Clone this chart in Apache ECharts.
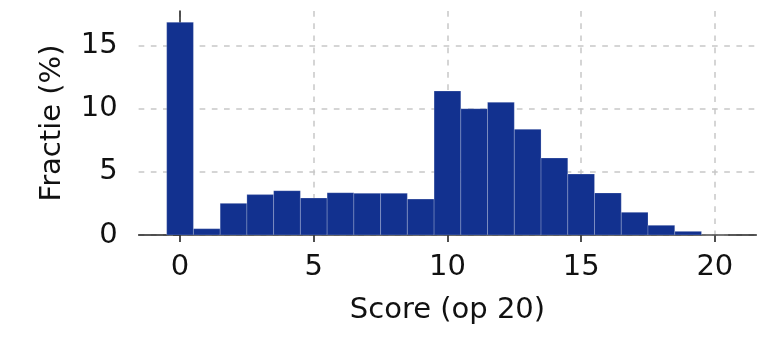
<!DOCTYPE html>
<html>
<head>
<meta charset="utf-8">
<script src="https://cdn.jsdelivr.net/npm/echarts@6/dist/echarts.min.js"></script>
<style>
  html, body { margin: 0; padding: 0; background: #fff; }
  #chart { width: 778px; height: 346px; }
</style>
</head>
<body>
<div id="chart"></div>
<script>
// Histogram bins (score out of 20) and fraction of students (%)
const scores = [0, 1, 2, 3, 4, 5, 6, 7, 8, 9, 10, 11, 12, 13, 14, 15, 16, 17, 18, 19, 20];
const fraction = [16.85, 0.50, 2.51, 3.20, 3.51, 2.93, 3.35, 3.30, 3.30, 2.85, 11.41, 10.01, 10.51, 8.37, 6.10, 4.83, 3.33, 1.80, 0.77, 0.29, 0.0];
const xTicks = [0, 5, 10, 15, 20];
const yTicks = [0, 5, 10, 15];
const xTitle = 'Score (op 20)';
const yTitle = 'Fractie (%)';

const FONT = 'DejaVu Sans';
const TXT = '#111111';
const BAR = '#12318f';
const GRIDLINE = { color: '#c8c8c8', width: 1.5, type: [5.7, 6.5] };

const chart = echarts.init(document.getElementById('chart'), null, { renderer: 'canvas' });

const data = scores.map((s, i) => [s, fraction[i]]);

chart.setOption({
  animation: false,
  backgroundColor: '#ffffff',
  grid: { left: 138.6, right: 21.7, top: 11, bottom: 111, containLabel: false },
  xAxis: {
    type: 'value',
    min: -1.55,
    max: 21.55,
    name: xTitle,
    nameLocation: 'middle',
    nameGap: 61,
    nameTextStyle: { fontFamily: FONT, fontSize: 29, color: TXT },
    axisLine: { show: true, onZero: false, lineStyle: { color: '#222', width: 1.5 } },
    axisTick: { show: true, customValues: xTicks, length: 7, lineStyle: { color: '#222', width: 1.6 } },
    axisLabel: { customValues: xTicks, margin: 18, fontFamily: FONT, fontSize: 29, color: TXT },
    splitLine: { show: true, lineStyle: GRIDLINE }
  },
  yAxis: {
    type: 'value',
    min: 0,
    max: 17.75,
    name: yTitle,
    nameLocation: 'middle',
    nameGap: 72,
    nameRotate: 90,
    nameTextStyle: { fontFamily: FONT, fontSize: 29, color: TXT },
    axisLine: { show: true, lineStyle: { color: '#222', width: 1.5 } },
    axisTick: { show: true, customValues: yTicks, length: 7, lineStyle: { color: '#222', width: 1.6 } },
    axisLabel: { customValues: yTicks, margin: 21, padding: [5, 0, 0, 0], fontFamily: FONT, fontSize: 29, color: TXT },
    splitLine: { show: true, lineStyle: GRIDLINE }
  },
  series: [{
    type: 'custom',
    data: data,
    encode: { x: 0, y: 1 },
    renderItem: function (params, api) {
      const x = api.value(0);
      const y = api.value(1);
      const p0 = api.coord([x - 0.5, y]);
      const p1 = api.coord([x + 0.5, 0]);
      return {
        type: 'rect',
        shape: { x: p0[0], y: p0[1], width: p1[0] - p0[0], height: p1[1] - p0[1] },
        style: { fill: BAR, stroke: 'rgba(255,255,255,0.3)', lineWidth: 0.7 }
      };
    }
  }]
});
</script>
</body>
</html>
